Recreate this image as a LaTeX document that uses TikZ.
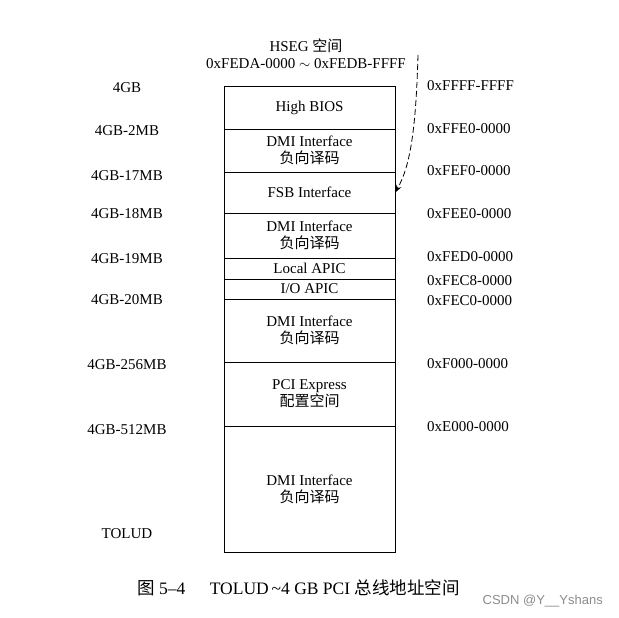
\documentclass[tikz,border=0pt]{standalone}
\usepackage{fontspec}
\setmainfont{Liberation Serif}
\newfontfamily\cjk{Noto Sans CJK SC}
\newfontfamily\wmfont{Liberation Sans}
\usetikzlibrary{arrows.meta,positioning}

\begin{document}
\begin{tikzpicture}[
  x=1pt, y=-1pt,
  node distance=0pt,
  seg/.style={rectangle, draw=black, line width=1pt, outer sep=0pt, align=center,
              inner sep=0pt, minimum width=171pt, font=\fontsize{15}{17}\selectfont},
  addr/.style={inner sep=0pt, font=\fontsize{15}{17}\selectfont},
  dasharr/.style={-{Stealth[length=8pt,width=5.5pt]}, dash pattern=on 6pt off 3pt, line width=0.8pt}
]
\useasboundingbox (0,0) rectangle (619,618);
% address map, top to bottom
\node[seg, anchor=north, minimum height=42pt] (bios) at (309.5,87) {High BIOS};
\node[seg, below=of bios, minimum height=43pt] (dmia) {DMI Interface\\{\cjk 负向译码}};
\node[seg, below=of dmia, minimum height=41.5pt] (fsb) {FSB Interface};
\node[seg, below=of fsb, minimum height=44.5pt] (dmib) {DMI Interface\\{\cjk 负向译码}};
\node[seg, below=of dmib, minimum height=21pt] (lapic) {Local APIC};
\node[seg, below=of lapic, minimum height=20pt] (ioapic) {I/O APIC};
\node[seg, below=of ioapic, minimum height=63pt] (dmic) {DMI Interface\\{\cjk 负向译码}};
\node[seg, below=of dmic, minimum height=64pt] (pcie) {PCI Express\\{\cjk 配置空间}};
\node[seg, below=of pcie, minimum height=126pt] (dmid) {DMI Interface\\{\cjk 负向译码}};
% left labels
\node[addr] (l4g) at (127,88) {4GB};
\node[addr] (l2m) at (127,131) {4GB-2MB};
\node[addr] (l17m) at (127,176) {4GB-17MB};
\node[addr] (l18m) at (127,214) {4GB-18MB};
\node[addr] (l19m) at (127,259) {4GB-19MB};
\node[addr] (l20m) at (127,300) {4GB-20MB};
\node[addr] (l256m) at (127,365) {4GB-256MB};
\node[addr] (l512m) at (127,430) {4GB-512MB};
\node[addr] (ltolud) at (127,534) {TOLUD};
% right labels
\node[addr, anchor=west] (rffff) at (427,86) {0xFFFF-FFFF};
\node[addr, anchor=west] (rffe0) at (427,129) {0xFFE0-0000};
\node[addr, anchor=west] (rfef0) at (427,171) {0xFEF0-0000};
\node[addr, anchor=west] (rfee0) at (427,214) {0xFEE0-0000};
\node[addr, anchor=west] (rfed0) at (427,257) {0xFED0-0000};
\node[addr, anchor=west] (rfec8) at (427,281) {0xFEC8-0000};
\node[addr, anchor=west] (rfec0) at (427,301) {0xFEC0-0000};
\node[addr, anchor=west] (rf000) at (427,364) {0xF000-0000};
\node[addr, anchor=west] (re000) at (427,427) {0xE000-0000};
% HSEG window
\node[addr, align=center] (hseg) at (306,54) {HSEG {\cjk 空间}\\0xFEDA-0000 $\sim$ 0xFEDB-FFFF};
\coordinate (hs) at (418,55);
\draw[dasharr] (hs) .. controls (416,125) and (411,165) .. (fsb.east);
% caption and mark
\node[inner sep=0pt, anchor=west, font=\fontsize{17.5}{20}\selectfont] (cap) at (137,588)
  {{\cjk 图}~5–4\hspace{1.4em}TOLUD\,\textasciitilde 4 GB PCI {\cjk 总线地址空间}};
\node[inner sep=0pt, anchor=east, text=black!45, font=\wmfont\fontsize{13}{15}\selectfont] (mark) at (603,601) {CSDN @Y\_\_Yshans};
\end{tikzpicture}
\end{document}
